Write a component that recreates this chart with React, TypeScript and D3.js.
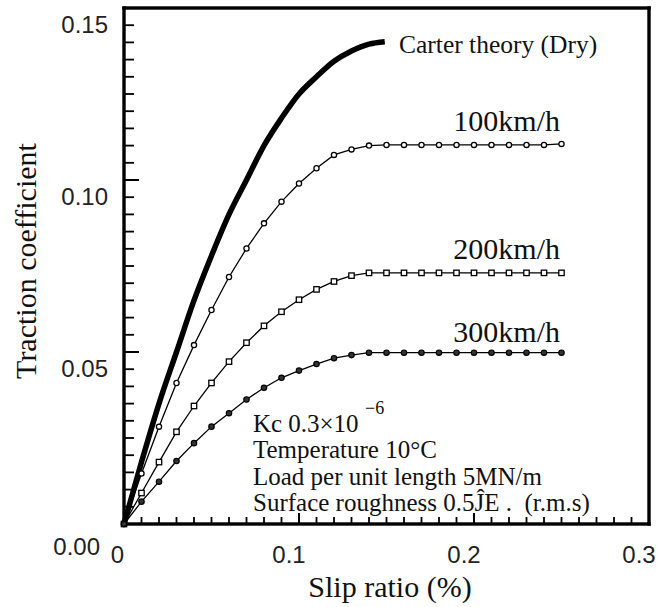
import React from 'react';
import * as d3 from 'd3';

// ---- data ----
const slip = [0, 0.01, 0.02, 0.03, 0.04, 0.05, 0.06, 0.07, 0.08, 0.09, 0.1, 0.11, 0.12, 0.13, 0.14, 0.15, 0.16, 0.17, 0.18, 0.19, 0.2, 0.21, 0.22, 0.23, 0.24, 0.25];
const mu100 = [0, 0.0147, 0.0283, 0.041, 0.052, 0.0622, 0.0718, 0.0801, 0.0874, 0.0937, 0.099, 0.1034, 0.1073, 0.1089, 0.11, 0.1102, 0.1102, 0.1102, 0.1102, 0.1102, 0.1102, 0.1102, 0.1102, 0.1102, 0.1102, 0.1105];
const mu200 = [0, 0.009, 0.018, 0.0268, 0.0343, 0.041, 0.0472, 0.0527, 0.0576, 0.0617, 0.0652, 0.0682, 0.0705, 0.0722, 0.073, 0.073, 0.073, 0.073, 0.073, 0.073, 0.073, 0.073, 0.073, 0.073, 0.073, 0.073];
const mu300 = [0, 0.0065, 0.0123, 0.0183, 0.0235, 0.0283, 0.0322, 0.0362, 0.0396, 0.0425, 0.0446, 0.0465, 0.0482, 0.0491, 0.0498, 0.0498, 0.0498, 0.0498, 0.0498, 0.0498, 0.0498, 0.0498, 0.0498, 0.0498, 0.0498, 0.0498];
const carterSlip = [0, 0.01, 0.02, 0.03, 0.04, 0.05, 0.06, 0.07, 0.08, 0.09, 0.1, 0.11, 0.12, 0.13, 0.14, 0.149];
const carterMu = [0, 0.018, 0.035, 0.05, 0.065, 0.078, 0.09, 0.1, 0.11, 0.118, 0.125, 0.13, 0.1345, 0.1375, 0.1395, 0.1402];

const seriesNames = ['100km/h', '200km/h', '300km/h'];
const yTicks = [0, 0.05, 0.1, 0.15];
const yTickLabels = ['0.00', '0.05', '0.10', '0.15'];
const xTicks = [0, 0.1, 0.2, 0.3];
const xTickLabels = ['0', '0.1', '0.2', '0.3'];
const yMinor = [0.005, 0.01, 0.015, 0.02, 0.025, 0.03, 0.035, 0.04, 0.045, 0.055, 0.06, 0.065, 0.07, 0.075, 0.08, 0.085, 0.09, 0.095, 0.105, 0.11, 0.115, 0.12, 0.125, 0.13, 0.135, 0.14, 0.145];
const xMinor = [0.01, 0.02, 0.03, 0.04, 0.05, 0.06, 0.07, 0.08, 0.09, 0.11, 0.12, 0.13, 0.14, 0.15, 0.16, 0.17, 0.18, 0.19, 0.21, 0.22, 0.23, 0.24, 0.25, 0.26, 0.27, 0.28, 0.29];
const notes = ['Temperature 10°C', 'Load per unit length 5MN/m', 'Surface roughness 0.5ĴE .  (r.m.s)'];

const SERIF = '"Liberation Serif", "Times New Roman", serif';
const SANS = '"Liberation Sans", Arial, sans-serif';

export default function App() {
  const xs = d3.scaleLinear().domain([0, 0.3]).range([124, 649]);
  const ys = d3.scaleLinear().domain([0, 0.15]).range([524, 8]);

  const line = d3.line<number>().x((_, i) => xs(slip[i])).y((d) => ys(d));
  const carterLine = d3
    .line<number>()
    .x((_, i) => xs(carterSlip[i]))
    .y((d) => ys(d))
    .curve(d3.curveMonotoneX);

  const series = [mu100, mu200, mu300];
  const labelY = [131, 259, 342];
  const L = xs(0), R = xs(0.3), T = ys(0.15), B = ys(0);

  return (
    <div style={{ position: 'absolute', left: 0, top: 0, width: 659, height: 607, background: '#fff' }}>
      <svg width={659} height={607} viewBox="0 0 659 607" style={{ display: 'block' }}>
        {/* frame as filled bars */}
        <rect x={L - 1.7} y={T - 1.7} width={R - L + 3.4} height={3.4} fill="#000" />
        <rect x={L - 1.7} y={B - 1.7} width={R - L + 3.4} height={3.4} fill="#000" />
        <rect x={L - 1.7} y={T - 1.7} width={3.4} height={B - T + 3.4} fill="#000" />
        <rect x={R - 1.7} y={T - 1.7} width={3.4} height={B - T + 3.4} fill="#000" />
        {/* ticks as filled bars */}
        {yMinor.map((v) => (
          <rect key={'ym' + v} x={L} y={ys(v) - 0.9} width={10} height={1.8} fill="#000" />
        ))}
        {[0.05, 0.1].map((v) => (
          <rect key={'yM' + v} x={L} y={ys(v) - 1} width={15} height={2} fill="#000" />
        ))}
        {xMinor.map((v) => (
          <rect key={'xm' + v} x={xs(v) - 0.9} y={B - 7} width={1.8} height={7} fill="#000" />
        ))}
        {[0.1, 0.2].map((v) => (
          <rect key={'xM' + v} x={xs(v) - 1} y={B - 11} width={2} height={11} fill="#000" />
        ))}

        {/* series */}
        <path d={carterLine(carterMu) || ''} fill="none" stroke="#000" strokeWidth={5.5} />
        {series.map((s, si) => (
          <path key={'l' + si} d={line(s) || ''} fill="none" stroke="#000" strokeWidth={1.3} />
        ))}
        {mu100.map((v, i) => (
          <circle key={'a' + i} cx={xs(slip[i])} cy={ys(v)} r={2.6} fill="#fff" stroke="#000" strokeWidth={1.3} />
        ))}
        {mu200.map((v, i) => (
          <rect key={'b' + i} x={xs(slip[i]) - 2.7} y={ys(v) - 2.7} width={5.4} height={5.4} fill="#fff" stroke="#000" strokeWidth={1.3} />
        ))}
        {mu300.map((v, i) => (
          <circle key={'c' + i} cx={xs(slip[i])} cy={ys(v)} r={2.7} fill="#333" stroke="#000" strokeWidth={1.2} />
        ))}

        {/* tick labels */}
        {yTicks.map((v, i) => (
          <text
            key={'yl' + v}
            x={v === 0 ? L - 24 : L - 16}
            y={v === 0 ? ys(v) + 31 : ys(v) + 25}
            textAnchor="end"
            fontFamily={SANS}
            fontSize={24}
            fill="#222"
          >
            {yTickLabels[i]}
          </text>
        ))}
        {xTicks.map((v, i) => (
          <text
            key={'xl' + v}
            x={v === 0 ? xs(v) - 6.5 : xs(v) - 10}
            y={563}
            textAnchor="middle"
            fontFamily={SANS}
            fontSize={24}
            fill="#222"
          >
            {xTickLabels[i]}
          </text>
        ))}

        {/* axis titles */}
        <text x={390} y={597} textAnchor="middle" fontFamily={SERIF} fontSize={30} fill="#111">
          Slip ratio (%)
        </text>
        <text transform="translate(36,261) rotate(-90)" textAnchor="middle" fontFamily={SERIF} fontSize={30} fill="#111">
          Traction coefficient
        </text>

        {/* curve labels */}
        <text x={399} y={53} fontFamily={SERIF} fontSize={25.5} fill="#111">
          Carter theory (Dry)
        </text>
        {seriesNames.map((n, i) => (
          <text key={n} x={560} y={labelY[i]} textAnchor="end" fontFamily={SERIF} fontSize={30} fill="#111">
            {n}
          </text>
        ))}

        {/* annotation */}
        <text x={253} y={432} fontFamily={SERIF} fontSize={25} fill="#111">
          Kc<tspan dx={6}>0.3×10</tspan>
        </text>
        <text x={365} y={414} fontFamily={SERIF} fontSize={18} fill="#111">
          −6
        </text>
        {notes.map((n, i) => (
          <text key={n} x={253} y={458 + i * 26.5} fontFamily={SERIF} fontSize={25} fill="#111" style={{ whiteSpace: 'pre' }}>
            {n}
          </text>
        ))}
      </svg>
    </div>
  );
}
